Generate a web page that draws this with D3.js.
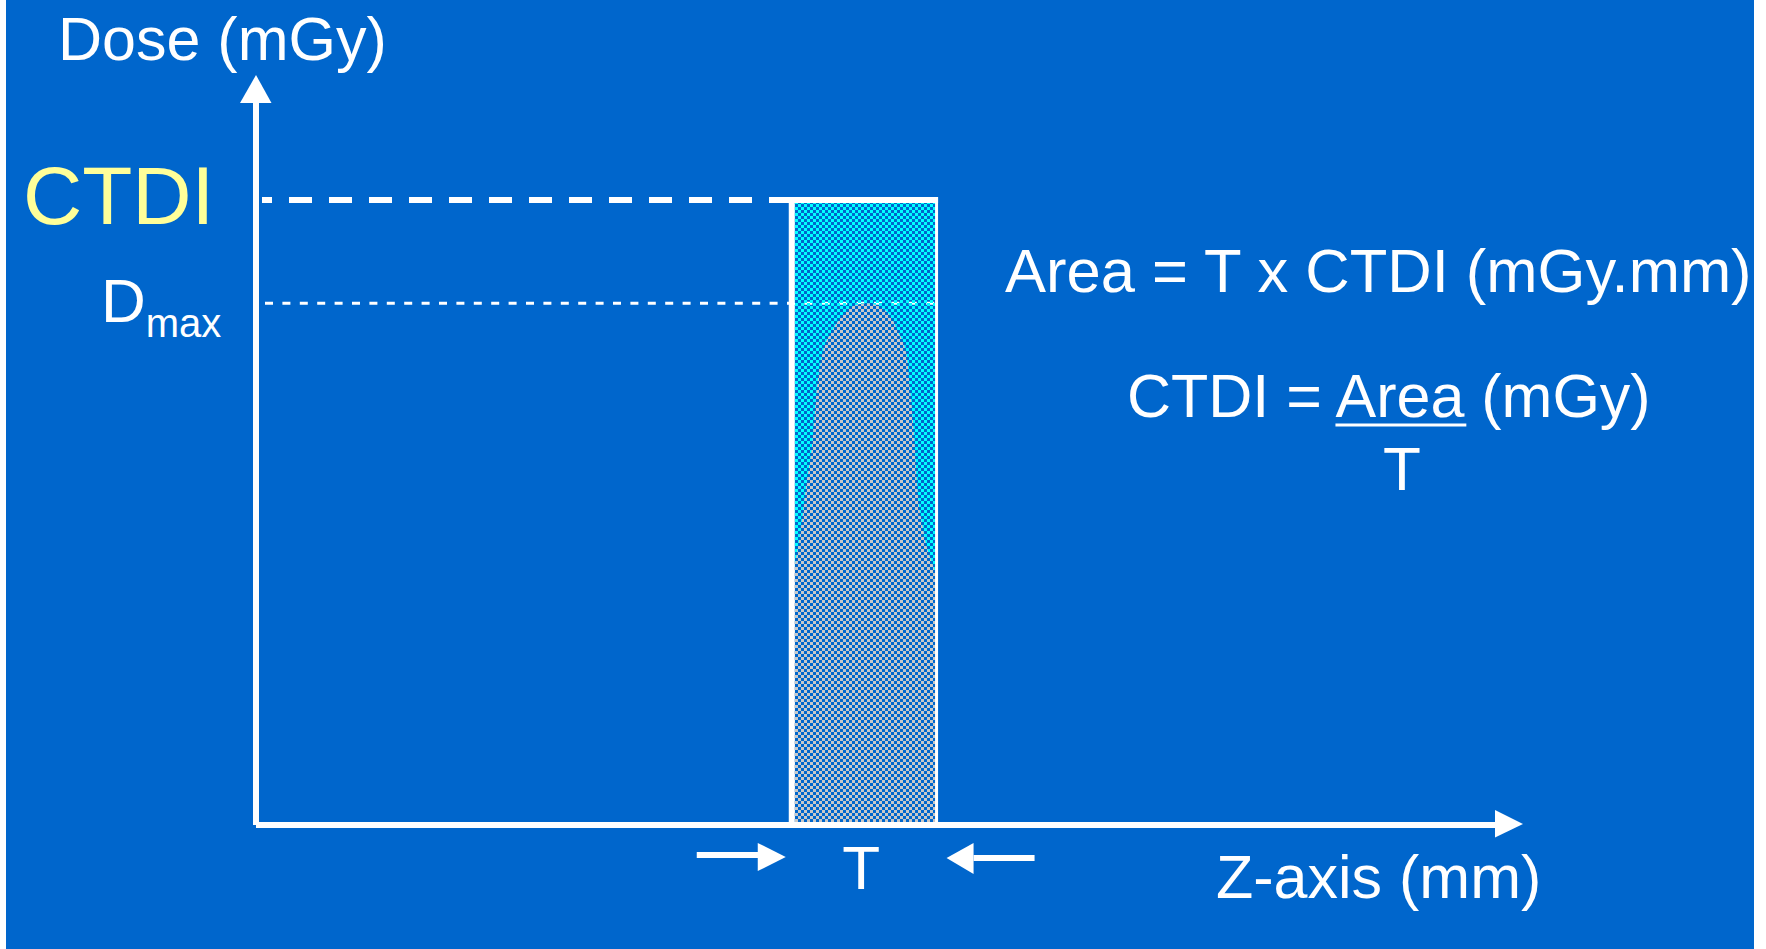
<!DOCTYPE html>
<html>
<head>
<meta charset="utf-8">
<script src="https://cdn.jsdelivr.net/npm/d3@7"></script>
<style>
  html, body { margin: 0; padding: 0; background: #ffffff; }
  svg { display: block; }
  text { font-family: "Liberation Sans", Arial, sans-serif; }
</style>
</head>
<body>
<svg id="chart" width="1766" height="949"></svg>
<script>
// Axis extents (z in mm, dose in mGy)
const zDomain = [-42, 45.5];
const doseDomain = [0, 24];

// Nominal slice width T (mm), centred on z = 0
const sliceWidth = 10;
// CTDI level and peak of the single-slice dose profile (mGy)
const ctdiValue = 20;
const dMaxValue = 16.7;

// Single-slice dose profile along z
const profileZ    = [-7, -5.2, -4.9, -4.4, -3.96, -3.61, -3.26, -2.92, -2.23, -1.5, -0.9, 0.2, 1.1, 1.8, 2.33, 2.95, 3.16, 3.5, 3.64, 4.1, 4.9, 5.2, 7];
const profileDose = [3.5, 7.6, 8.1, 9.4, 11.0, 12.1, 14.0, 15.0, 15.8, 16.3, 16.58, 16.7, 16.58, 16.3, 15.8, 15.0, 14.0, 12.1, 11.0, 9.4, 8.1, 7.6, 3.5];

// Text
const yAxisTitle = "Dose (mGy)";
const xAxisTitle = "Z-axis (mm)";
const ctdiLabel = "CTDI";
const dLabel = "D";
const dSub = "max";
const sliceLabel = "T";
const formulaArea = "Area = T x CTDI (mGy.mm)";
const formulaCtdi = "CTDI = Area (mGy)";
const numerWord = "Area";

const W = 1766, H = 949;
const svg = d3.select("#chart");

svg.append("rect")
  .attr("x", 6).attr("y", 0).attr("width", 1748).attr("height", H)
  .attr("fill", "#0066CC");

const x = d3.scaleLinear().domain(zDomain).range([256, 1523]);
const y = d3.scaleLinear().domain(doseDomain).range([825, 75]);

// Checker fills
const defs = svg.append("defs");
const cyan = defs.append("pattern").attr("id", "checkCyan")
  .attr("patternUnits", "userSpaceOnUse").attr("width", 6).attr("height", 6);
cyan.append("rect").attr("x", 0).attr("y", 0).attr("width", 3).attr("height", 3).attr("fill", "#00FFFF");
cyan.append("rect").attr("x", 3).attr("y", 3).attr("width", 3).attr("height", 3).attr("fill", "#00FFFF");

const grey = defs.append("pattern").attr("id", "checkGrey")
  .attr("patternUnits", "userSpaceOnUse").attr("width", 6).attr("height", 6);
grey.append("rect").attr("x", 0).attr("y", 0).attr("width", 6).attr("height", 6).attr("fill", "#0066CC");
grey.append("rect").attr("x", 0).attr("y", 0).attr("width", 3).attr("height", 3).attr("fill", "#C8C8C8");
grey.append("rect").attr("x", 3).attr("y", 3).attr("width", 3).attr("height", 3).attr("fill", "#C8C8C8");

const zL = -sliceWidth / 2, zR = sliceWidth / 2;

defs.append("clipPath").attr("id", "sliceClip")
  .append("rect")
  .attr("x", x(zL)).attr("y", y(ctdiValue))
  .attr("width", x(zR) - x(zL)).attr("height", y(0) - y(ctdiValue));

// Dmax reference line (drawn under the slice fill)
svg.append("line")
  .attr("x1", x(zDomain[0]) + 9).attr("x2", x(zR))
  .attr("y1", y(dMaxValue)).attr("y2", y(dMaxValue))
  .attr("stroke", "#fff").attr("stroke-width", 3)
  .attr("stroke-dasharray", "8,9.4");

// CTDI rectangle (area = T x CTDI)
svg.append("rect")
  .attr("x", x(zL)).attr("y", y(ctdiValue))
  .attr("width", x(zR) - x(zL)).attr("height", y(0) - y(ctdiValue))
  .attr("fill", "url(#checkCyan)");

// Dose profile inside the slice
const profile = profileZ.map((z, i) => ({ z: z, dose: profileDose[i] }));
const area = d3.area()
  .x(d => x(d.z))
  .y0(y(0))
  .y1(d => y(d.dose))
  .curve(d3.curveMonotoneX);
svg.append("path")
  .datum(profile)
  .attr("d", area)
  .attr("fill", "url(#checkGrey)")
  .attr("clip-path", "url(#sliceClip)");

// Slice outline
svg.append("line")
  .attr("x1", x(zL)).attr("x2", x(zL))
  .attr("y1", y(ctdiValue) - 3).attr("y2", y(0))
  .attr("stroke", "#fff").attr("stroke-width", 6);
svg.append("line")
  .attr("x1", x(zR)).attr("x2", x(zR))
  .attr("y1", y(ctdiValue) - 3).attr("y2", y(0))
  .attr("stroke", "#fff").attr("stroke-width", 3);
svg.append("line")
  .attr("x1", x(zL) - 3).attr("x2", x(zR) + 1.5)
  .attr("y1", y(ctdiValue)).attr("y2", y(ctdiValue))
  .attr("stroke", "#fff").attr("stroke-width", 6);

// CTDI level dashed line
svg.append("line")
  .attr("x1", x(zDomain[0]) + 6).attr("x2", x(zL))
  .attr("y1", y(ctdiValue)).attr("y2", y(ctdiValue))
  .attr("stroke", "#fff").attr("stroke-width", 6)
  .attr("stroke-dasharray", "23,17").attr("stroke-dashoffset", 13);

// Axes with arrowheads
const x0 = x(zDomain[0]), y0 = y(0);
const xTip = x(zDomain[1]), yTip = y(doseDomain[1]);
svg.append("line")
  .attr("x1", x0).attr("x2", x0).attr("y1", yTip + 28).attr("y2", y0)
  .attr("stroke", "#fff").attr("stroke-width", 6);
svg.append("polygon")
  .attr("points", [[x0, yTip], [x0 - 16, yTip + 28], [x0 + 15.5, yTip + 28]].join(" "))
  .attr("fill", "#fff");
svg.append("line")
  .attr("x1", x0).attr("x2", xTip - 28).attr("y1", y0).attr("y2", y0)
  .attr("stroke", "#fff").attr("stroke-width", 6);
svg.append("polygon")
  .attr("points", [[xTip, y0 - 1], [xTip - 28, y0 - 15], [xTip - 28, y0 + 12.5]].join(" "))
  .attr("fill", "#fff");

// Slice-width arrows
const lTip = x(zL) - 6, rTip = x(zR) + 10;
svg.append("line")
  .attr("x1", lTip - 89).attr("x2", lTip - 27).attr("y1", 855).attr("y2", 855)
  .attr("stroke", "#fff").attr("stroke-width", 6);
svg.append("polygon")
  .attr("points", [[lTip, 857], [lTip - 28, 843], [lTip - 28, 871]].join(" "))
  .attr("fill", "#fff");
svg.append("line")
  .attr("x1", rTip + 27).attr("x2", rTip + 88).attr("y1", 858).attr("y2", 858)
  .attr("stroke", "#fff").attr("stroke-width", 6);
svg.append("polygon")
  .attr("points", [[rTip, 858], [rTip + 27, 843], [rTip + 27, 874]].join(" "))
  .attr("fill", "#fff");

svg.append("text")
  .attr("x", x(0) - 3).attr("y", 889)
  .attr("text-anchor", "middle")
  .attr("font-size", 62).attr("fill", "#fff")
  .text(sliceLabel);

// Axis titles
svg.append("text")
  .attr("x", 58).attr("y", 60)
  .attr("font-size", 61).attr("fill", "#fff")
  .text(yAxisTitle);
svg.append("text")
  .attr("x", 1216).attr("y", 898)
  .attr("font-size", 61).attr("fill", "#fff")
  .text(xAxisTitle);

// Level labels
svg.append("text")
  .attr("x", 23).attr("y", y(ctdiValue) + 24)
  .attr("font-size", 82).attr("fill", "#FFFF99")
  .text(ctdiLabel);
const dText = svg.append("text")
  .attr("x", 101).attr("y", y(dMaxValue) + 19)
  .attr("font-size", 62).attr("fill", "#fff");
dText.append("tspan").text(dLabel);
dText.append("tspan").attr("font-size", 40).attr("dy", 15).text(dSub);

// Formulas
svg.append("text")
  .attr("x", 1005).attr("y", 292)
  .attr("font-size", 61.5).attr("fill", "#fff")
  .text(formulaArea);
const f2 = svg.append("text")
  .attr("x", 1127).attr("y", 417)
  .attr("font-size", 61).attr("fill", "#fff")
  .text(formulaCtdi);
const node = f2.node();
const idx = formulaCtdi.indexOf(numerWord);
const ux1 = node.getStartPositionOfChar(idx).x;
const ux2 = node.getEndPositionOfChar(idx + numerWord.length - 1).x;
svg.append("line")
  .attr("x1", ux1).attr("x2", ux2 + 2)
  .attr("y1", 425).attr("y2", 425)
  .attr("stroke", "#fff").attr("stroke-width", 3);
svg.append("text")
  .attr("x", (ux1 + ux2) / 2 + 2).attr("y", 490)
  .attr("text-anchor", "middle")
  .attr("font-size", 62).attr("fill", "#fff")
  .text(sliceLabel);
</script>
</body>
</html>
